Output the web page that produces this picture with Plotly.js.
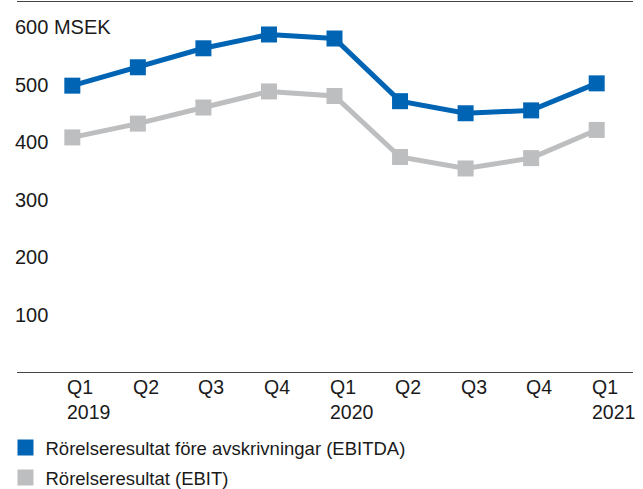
<!DOCTYPE html>
<html>
<head>
<meta charset="utf-8">
<script src="https://cdn.plot.ly/plotly-3.0.1.min.js"></script>
<style>html,body{margin:0;padding:0;background:#fff;}#chart{width:643px;height:489px;}</style>
</head>
<body>
<div id="chart"></div>
<script>
var quarters = ["Q1 2019","Q2 2019","Q3 2019","Q4 2019","Q1 2020","Q2 2020","Q3 2020","Q4 2020","Q1 2021"];
var quarterLabels = ["Q1<br>2019","Q2","Q3","Q4","Q1<br>2020","Q2","Q3","Q4","Q1<br>2021"];
var ebitda = [498, 530, 563, 587, 580, 471, 450, 455, 502];
var ebit = [408, 432, 460, 488, 480, 374, 354, 372, 421];
var yTickVals = [100, 200, 300, 400, 500, 600];
var yTickText = ["100", "200", "300", "400", "500", "600 MSEK"];
var seriesNames = ["Rörelseresultat före avskrivningar (EBITDA)", "Rörelseresultat (EBIT)"];

var BLUE = "#0064B4", GRAY = "#BDBEC0";
var FONT = "Liberation Sans, Arial, Helvetica, sans-serif";
var TXT = "#1a1a1a";

function lineTrace(y, color, group) {
  return {x: quarters, y: y, type: "scatter", mode: "lines", line: {color: color, width: 5},
          showlegend: false, hoverinfo: "skip", legendgroup: group};
}
function markerTrace(y, color, name, group) {
  return {x: quarters, y: y, type: "scatter", mode: "markers", name: name, legendgroup: group,
          marker: {symbol: "square", size: 16, color: color, line: {width: 0}}};
}

var data = [
  lineTrace(ebit, GRAY, "b"),
  lineTrace(ebitda, BLUE, "a"),
  markerTrace(ebitda, BLUE, seriesNames[0], "a"),
  markerTrace(ebit, GRAY, seriesNames[1], "b")
];

var annotations = quarters.map(function(q, i) {
  return {x: q, xref: "x", y: 0, yref: "paper", yanchor: "top", xanchor: "left", align: "left",
          xshift: -7, yshift: -2, showarrow: false, text: quarterLabels[i],
          font: {family: FONT, size: 19.5, color: TXT}};
});

var layout = {
  width: 643, height: 489,
  margin: {l: 17, r: 10, t: 2, b: 117, pad: 0, autoexpand: false},
  paper_bgcolor: "#fff", plot_bgcolor: "#fff",
  font: {family: FONT, size: 18.5, color: TXT},
  xaxis: {type: "category", range: [-0.844, 8.554], showgrid: false, zeroline: false,
          showline: true, mirror: true, linecolor: "#444", linewidth: 1.3,
          showticklabels: false, ticks: "", fixedrange: true},
  yaxis: {range: [0, 643.5], showgrid: false, zeroline: false, showline: false,
          tickvals: yTickVals, ticktext: yTickText, ticks: "",
          ticklabelposition: "inside", ticklabelstandoff: -5,
          tickfont: {family: FONT, size: 20, color: TXT}, fixedrange: true},
  showlegend: true,
  legend: {x: -0.0187, xanchor: "left", y: -0.154, yanchor: "top",
           orientation: "v", traceorder: "grouped", tracegroupgap: 3, itemsizing: "trace",
           borderwidth: 0,
           font: {family: FONT, size: 18.5, color: TXT}, bgcolor: "rgba(0,0,0,0)"},
  annotations: annotations
};

Plotly.newPlot("chart", data, layout, {displayModeBar: false, staticPlot: true});
</script>
</body>
</html>
